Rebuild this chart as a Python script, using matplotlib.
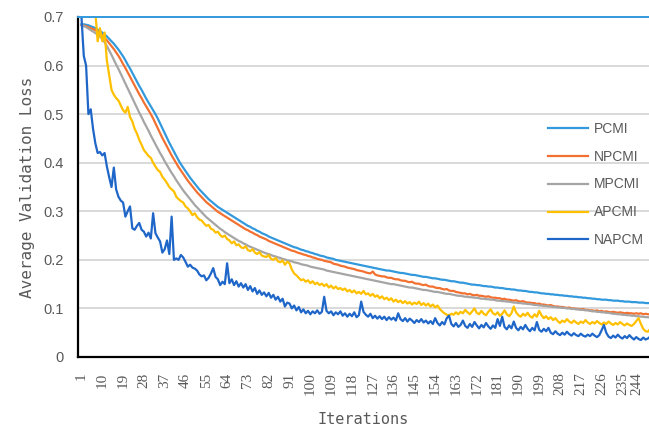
import numpy as np
import matplotlib
matplotlib.use("Agg")
import matplotlib.pyplot as plt

# validation loss per iteration
pcmi = [
    0.685, 0.685, 0.684, 0.683, 0.681, 0.679, 0.677, 0.674, 0.671, 0.668,
    0.664, 0.660, 0.655, 0.650, 0.645, 0.639, 0.633, 0.626, 0.619, 0.611,
    0.602, 0.594, 0.585, 0.576, 0.567, 0.558, 0.550, 0.541, 0.532, 0.524,
    0.516, 0.508, 0.500, 0.491, 0.481, 0.471, 0.461, 0.451, 0.441, 0.432,
    0.423, 0.414, 0.405, 0.397, 0.390, 0.383, 0.376, 0.369, 0.363, 0.357,
    0.351, 0.345, 0.340, 0.335, 0.330, 0.325, 0.321, 0.317, 0.313, 0.309,
    0.306, 0.303, 0.300, 0.297, 0.294, 0.291, 0.288, 0.285, 0.282, 0.279,
    0.276, 0.273, 0.270, 0.268, 0.265, 0.263, 0.260, 0.258, 0.255, 0.253,
    0.251, 0.248, 0.246, 0.244, 0.242, 0.240, 0.238, 0.236, 0.234, 0.232,
    0.230, 0.228, 0.226, 0.225, 0.223, 0.221, 0.220, 0.218, 0.217, 0.215,
    0.214, 0.212, 0.211, 0.209, 0.208, 0.207, 0.205, 0.204, 0.203, 0.202,
    0.200, 0.199, 0.198, 0.197, 0.196, 0.195, 0.194, 0.193, 0.192, 0.191,
    0.190, 0.189, 0.188, 0.187, 0.186, 0.185, 0.184, 0.183, 0.182, 0.181,
    0.180, 0.179, 0.178, 0.178, 0.177, 0.176, 0.175, 0.174, 0.173, 0.173,
    0.172, 0.171, 0.170, 0.169, 0.169, 0.168, 0.167, 0.166, 0.165, 0.165,
    0.164, 0.163, 0.162, 0.162, 0.161, 0.160, 0.159, 0.159, 0.158, 0.157,
    0.156, 0.156, 0.155, 0.154, 0.153, 0.153, 0.152, 0.151, 0.150, 0.149,
    0.149, 0.148, 0.148, 0.147, 0.146, 0.146, 0.145, 0.145, 0.144, 0.143,
    0.143, 0.142, 0.142, 0.141, 0.140, 0.140, 0.139, 0.139, 0.138, 0.137,
    0.137, 0.136, 0.136, 0.135, 0.134, 0.134, 0.133, 0.133, 0.132, 0.131,
    0.131, 0.130, 0.130, 0.129, 0.129, 0.128, 0.128, 0.127, 0.127, 0.126,
    0.126, 0.125, 0.125, 0.124, 0.124, 0.123, 0.123, 0.122, 0.122, 0.121,
    0.121, 0.120, 0.120, 0.119, 0.119, 0.118, 0.118, 0.118, 0.117, 0.117,
    0.116, 0.116, 0.116, 0.115, 0.115, 0.114, 0.114, 0.114, 0.113, 0.113,
    0.113, 0.112, 0.112, 0.112, 0.111, 0.111, 0.111,
]

npcmi = [
    0.683, 0.682, 0.681, 0.679, 0.677, 0.675, 0.673, 0.670, 0.666, 0.662,
    0.657, 0.652, 0.646, 0.640, 0.634, 0.627, 0.620, 0.612, 0.603, 0.595,
    0.586, 0.577, 0.568, 0.559, 0.550, 0.541, 0.533, 0.524, 0.516, 0.508,
    0.500, 0.491, 0.481, 0.471, 0.461, 0.451, 0.442, 0.433, 0.424, 0.415,
    0.407, 0.399, 0.391, 0.384, 0.377, 0.370, 0.363, 0.357, 0.351, 0.345,
    0.339, 0.334, 0.329, 0.324, 0.319, 0.315, 0.311, 0.307, 0.303, 0.299,
    0.296, 0.293, 0.290, 0.287, 0.284, 0.281, 0.278, 0.275, 0.272, 0.269,
    0.266, 0.263, 0.261, 0.258, 0.256, 0.253, 0.251, 0.248, 0.246, 0.244,
    0.242, 0.239, 0.237, 0.235, 0.233, 0.231, 0.229, 0.227, 0.225, 0.223,
    0.221, 0.219, 0.218, 0.216, 0.214, 0.213, 0.211, 0.210, 0.208, 0.207,
    0.205, 0.204, 0.202, 0.201, 0.200, 0.198, 0.197, 0.196, 0.195, 0.192,
    0.191, 0.190, 0.188, 0.187, 0.186, 0.184, 0.183, 0.182, 0.181, 0.179,
    0.178, 0.177, 0.176, 0.174, 0.173, 0.172, 0.176, 0.170, 0.168, 0.167,
    0.166, 0.166, 0.164, 0.163, 0.163, 0.161, 0.160, 0.160, 0.158, 0.157,
    0.157, 0.155, 0.154, 0.155, 0.152, 0.151, 0.151, 0.149, 0.148, 0.149,
    0.146, 0.145, 0.145, 0.143, 0.142, 0.142, 0.140, 0.139, 0.140, 0.137,
    0.136, 0.136, 0.134, 0.133, 0.132, 0.131, 0.131, 0.129, 0.130, 0.128,
    0.127, 0.128, 0.126, 0.126, 0.125, 0.124, 0.125, 0.123, 0.122, 0.122,
    0.121, 0.121, 0.119, 0.120, 0.118, 0.118, 0.117, 0.116, 0.117, 0.115,
    0.114, 0.115, 0.113, 0.112, 0.112, 0.111, 0.111, 0.109, 0.110, 0.108,
    0.108, 0.107, 0.106, 0.107, 0.105, 0.104, 0.104, 0.103, 0.103, 0.102,
    0.101, 0.102, 0.100, 0.100, 0.099, 0.099, 0.098, 0.099, 0.097, 0.097,
    0.096, 0.096, 0.095, 0.096, 0.094, 0.095, 0.093, 0.094, 0.093, 0.092,
    0.093, 0.092, 0.091, 0.092, 0.091, 0.090, 0.091, 0.090, 0.090, 0.089,
    0.090, 0.089, 0.090, 0.088, 0.089, 0.088, 0.088,
]

mpcmi = [
    0.683, 0.681, 0.679, 0.676, 0.673, 0.670, 0.667, 0.664, 0.660, 0.655,
    0.648, 0.640, 0.631, 0.622, 0.612, 0.602, 0.593, 0.583, 0.573, 0.563,
    0.553, 0.543, 0.533, 0.523, 0.513, 0.503, 0.494, 0.484, 0.475, 0.466,
    0.456, 0.447, 0.438, 0.429, 0.420, 0.412, 0.403, 0.395, 0.387, 0.379,
    0.372, 0.364, 0.357, 0.350, 0.343, 0.337, 0.331, 0.325, 0.319, 0.313,
    0.308, 0.303, 0.298, 0.293, 0.288, 0.284, 0.280, 0.276, 0.272, 0.268,
    0.264, 0.261, 0.257, 0.254, 0.251, 0.248, 0.245, 0.242, 0.239, 0.237,
    0.234, 0.232, 0.229, 0.227, 0.225, 0.223, 0.221, 0.219, 0.217, 0.215,
    0.213, 0.212, 0.210, 0.208, 0.207, 0.205, 0.204, 0.202, 0.201, 0.199,
    0.198, 0.197, 0.195, 0.194, 0.193, 0.191, 0.190, 0.189, 0.188, 0.186,
    0.185, 0.184, 0.183, 0.182, 0.181, 0.180, 0.178, 0.177, 0.176, 0.175,
    0.174, 0.173, 0.172, 0.171, 0.170, 0.169, 0.168, 0.167, 0.166, 0.165,
    0.164, 0.163, 0.162, 0.161, 0.160, 0.159, 0.158, 0.157, 0.156, 0.155,
    0.154, 0.153, 0.152, 0.151, 0.150, 0.150, 0.149, 0.148, 0.147, 0.146,
    0.145, 0.144, 0.143, 0.143, 0.142, 0.141, 0.140, 0.139, 0.138, 0.138,
    0.137, 0.136, 0.135, 0.134, 0.134, 0.133, 0.132, 0.131, 0.130, 0.130,
    0.129, 0.128, 0.127, 0.126, 0.126, 0.125, 0.124, 0.124, 0.123, 0.123,
    0.122, 0.122, 0.121, 0.120, 0.120, 0.119, 0.119, 0.118, 0.118, 0.117,
    0.116, 0.116, 0.115, 0.115, 0.114, 0.114, 0.113, 0.112, 0.112, 0.111,
    0.111, 0.110, 0.110, 0.109, 0.109, 0.108, 0.107, 0.107, 0.106, 0.106,
    0.105, 0.105, 0.104, 0.104, 0.103, 0.103, 0.102, 0.102, 0.101, 0.101,
    0.100, 0.100, 0.099, 0.099, 0.098, 0.098, 0.097, 0.097, 0.096, 0.096,
    0.095, 0.094, 0.094, 0.093, 0.093, 0.092, 0.092, 0.091, 0.091, 0.090,
    0.089, 0.089, 0.088, 0.088, 0.087, 0.087, 0.086, 0.086, 0.085, 0.085,
    0.084, 0.084, 0.083, 0.083, 0.082, 0.082, 0.081,
]

apcmi = [
    0.780, 0.770, 0.760, 0.750, 0.740, 0.730, 0.710, 0.650, 0.677, 0.650,
    0.668, 0.610, 0.580, 0.550, 0.540, 0.533, 0.528, 0.518, 0.508, 0.503,
    0.515, 0.494, 0.485, 0.470, 0.460, 0.447, 0.437, 0.426, 0.420, 0.414,
    0.410, 0.400, 0.392, 0.385, 0.381, 0.371, 0.365, 0.358, 0.350, 0.345,
    0.341, 0.330, 0.325, 0.321, 0.318, 0.310, 0.306, 0.300, 0.292, 0.296,
    0.288, 0.283, 0.281, 0.275, 0.270, 0.272, 0.264, 0.262, 0.256, 0.258,
    0.251, 0.247, 0.250, 0.243, 0.240, 0.234, 0.238, 0.230, 0.232, 0.226,
    0.224, 0.228, 0.220, 0.218, 0.222, 0.215, 0.212, 0.216, 0.209, 0.207,
    0.206, 0.210, 0.202, 0.200, 0.204, 0.197, 0.195, 0.199, 0.190, 0.196,
    0.193, 0.180, 0.172, 0.168, 0.163, 0.158, 0.160, 0.155, 0.158, 0.152,
    0.156, 0.150, 0.153, 0.148, 0.151, 0.146, 0.150, 0.143, 0.147, 0.141,
    0.145, 0.140, 0.142, 0.138, 0.141, 0.135, 0.138, 0.133, 0.137, 0.131,
    0.134, 0.130, 0.136, 0.129, 0.131, 0.126, 0.130, 0.124, 0.127, 0.121,
    0.125, 0.119, 0.122, 0.117, 0.121, 0.114, 0.118, 0.113, 0.116, 0.111,
    0.115, 0.110, 0.113, 0.108, 0.112, 0.109, 0.114, 0.107, 0.111, 0.106,
    0.110, 0.104, 0.108, 0.102, 0.106, 0.099, 0.094, 0.090, 0.087, 0.086,
    0.089, 0.087, 0.092, 0.088, 0.093, 0.090, 0.097, 0.092, 0.088, 0.094,
    0.100, 0.091, 0.088, 0.095, 0.089, 0.086, 0.093, 0.098, 0.090, 0.087,
    0.092, 0.085, 0.089, 0.096, 0.088, 0.084, 0.090, 0.104, 0.092, 0.086,
    0.083, 0.089, 0.085, 0.091, 0.084, 0.081, 0.088, 0.083, 0.095, 0.086,
    0.080, 0.084, 0.078, 0.082, 0.076, 0.080, 0.074, 0.070, 0.075, 0.072,
    0.078, 0.073, 0.070, 0.075, 0.071, 0.068, 0.073, 0.070, 0.076, 0.071,
    0.068, 0.072, 0.069, 0.074, 0.070, 0.067, 0.071, 0.068, 0.073, 0.069,
    0.066, 0.070, 0.067, 0.072, 0.068, 0.065, 0.069, 0.066, 0.064, 0.068,
    0.074, 0.080, 0.068, 0.058, 0.053, 0.052, 0.058,
]

napcm = [
    0.700, 0.620, 0.600, 0.500, 0.510, 0.470, 0.440, 0.420, 0.422, 0.415,
    0.420, 0.392, 0.370, 0.350, 0.390, 0.345, 0.330, 0.322, 0.318, 0.289,
    0.300, 0.310, 0.265, 0.262, 0.270, 0.276, 0.262, 0.258, 0.248, 0.256,
    0.244, 0.296, 0.255, 0.246, 0.238, 0.215, 0.222, 0.240, 0.212, 0.289,
    0.200, 0.203, 0.200, 0.210, 0.205, 0.196, 0.186, 0.190, 0.184, 0.182,
    0.178, 0.170, 0.166, 0.168, 0.158, 0.163, 0.172, 0.183, 0.165, 0.160,
    0.148, 0.155, 0.150, 0.193, 0.152, 0.160, 0.148, 0.156, 0.145, 0.152,
    0.143, 0.150, 0.138, 0.146, 0.135, 0.142, 0.130, 0.137, 0.128, 0.133,
    0.125, 0.132, 0.122, 0.128, 0.118, 0.124, 0.114, 0.120, 0.104, 0.112,
    0.110, 0.100, 0.106, 0.096, 0.103, 0.092, 0.098, 0.090, 0.095, 0.088,
    0.094, 0.090, 0.096, 0.089, 0.093, 0.124, 0.095, 0.090, 0.094, 0.086,
    0.092, 0.088, 0.094, 0.085, 0.090, 0.083, 0.089, 0.084, 0.092, 0.082,
    0.086, 0.114, 0.093, 0.087, 0.083, 0.089, 0.080, 0.085, 0.079, 0.084,
    0.078, 0.083, 0.076, 0.082, 0.077, 0.081, 0.075, 0.090, 0.078, 0.074,
    0.080, 0.073, 0.079, 0.075, 0.070, 0.076, 0.072, 0.078, 0.071, 0.075,
    0.069, 0.074, 0.068, 0.080, 0.070, 0.065, 0.072, 0.067, 0.080, 0.085,
    0.068, 0.063, 0.070, 0.062, 0.066, 0.075, 0.064, 0.060, 0.068, 0.062,
    0.072, 0.065, 0.059, 0.066, 0.061, 0.070, 0.063, 0.058, 0.065, 0.060,
    0.078, 0.064, 0.083, 0.062, 0.057, 0.065, 0.059, 0.073, 0.060, 0.055,
    0.062, 0.057, 0.066, 0.058, 0.053, 0.060, 0.055, 0.072, 0.056, 0.052,
    0.058, 0.053, 0.060, 0.050, 0.047, 0.053, 0.048, 0.045, 0.050, 0.046,
    0.052, 0.047, 0.044, 0.049, 0.045, 0.043, 0.048, 0.044, 0.042, 0.046,
    0.043, 0.048, 0.044, 0.041, 0.045, 0.055, 0.066, 0.050, 0.042, 0.039,
    0.044, 0.040, 0.046, 0.041, 0.038, 0.043, 0.039, 0.045, 0.040, 0.036,
    0.041, 0.037, 0.035, 0.040, 0.036, 0.038, 0.042,
]

series_names = ["PCMI", "NPCMI", "MPCMI", "APCMI", "NAPCM"]
series_colors = ["#3399dd", "#f27131", "#a5a5a5", "#ffc000", "#1f66c9"]
tick_iters = list(range(1, 245, 9))

fig = plt.figure(figsize=(6.49, 4.28), dpi=100)
ax = fig.add_axes([78 / 649, 71 / 428, 571 / 649, 340 / 428])

for name, vals, col in zip(series_names, [pcmi, npcmi, mpcmi, apcmi, napcm], series_colors):
    it = np.arange(1, len(vals) + 1)
    ax.plot(it, vals, color=col, lw=1.6, label=name, solid_joinstyle="round")

ax.set_xlim(-0.5, 246.5)
ax.set_ylim(0, 0.7)
ax.set_yticks(np.arange(0, 0.71, 0.1))
ax.set_yticklabels(["0", "0.1", "0.2", "0.3", "0.4", "0.5", "0.6", "0.7"],
                   fontsize=10.5, color="#595959", family="Liberation Sans")
ax.set_xticks(tick_iters)
ax.set_xticklabels([str(t) for t in tick_iters], rotation=90, fontsize=11,
                   color="#595959", family="Liberation Serif")
ax.tick_params(axis="both", length=0)
ax.tick_params(axis="y", pad=10)
ax.tick_params(axis="x", pad=11)
# keep the last label inside the canvas
ax.get_xticklabels()[-1].set_horizontalalignment("right")

ax.yaxis.grid(True, color="#d9d9d9", lw=1.4)
ax.set_axisbelow(True)

for s in ["left", "bottom"]:
    ax.spines[s].set_color("black")
    ax.spines[s].set_linewidth(1.6)
ax.spines["right"].set_visible(False)
ax.spines["top"].set_color("#3399dd")
ax.spines["top"].set_linewidth(1.4)

ax.set_xlabel("Iterations", fontsize=11, color="#595959", family="DejaVu Sans Mono", labelpad=12)
ax.set_ylabel("Average Validation Loss", fontsize=11.5, color="#595959", family="DejaVu Sans Mono", labelpad=6)

leg = ax.legend(loc="upper left", bbox_to_anchor=(0.823, 0.692), frameon=False,
                fontsize=10, handlelength=2.9, handletextpad=0.4, labelspacing=1.0,
                borderpad=0, borderaxespad=0)
for t in leg.get_texts():
    t.set_color("#595959")
    t.set_family("Liberation Sans")

fig.savefig("out.png", dpi=100)
